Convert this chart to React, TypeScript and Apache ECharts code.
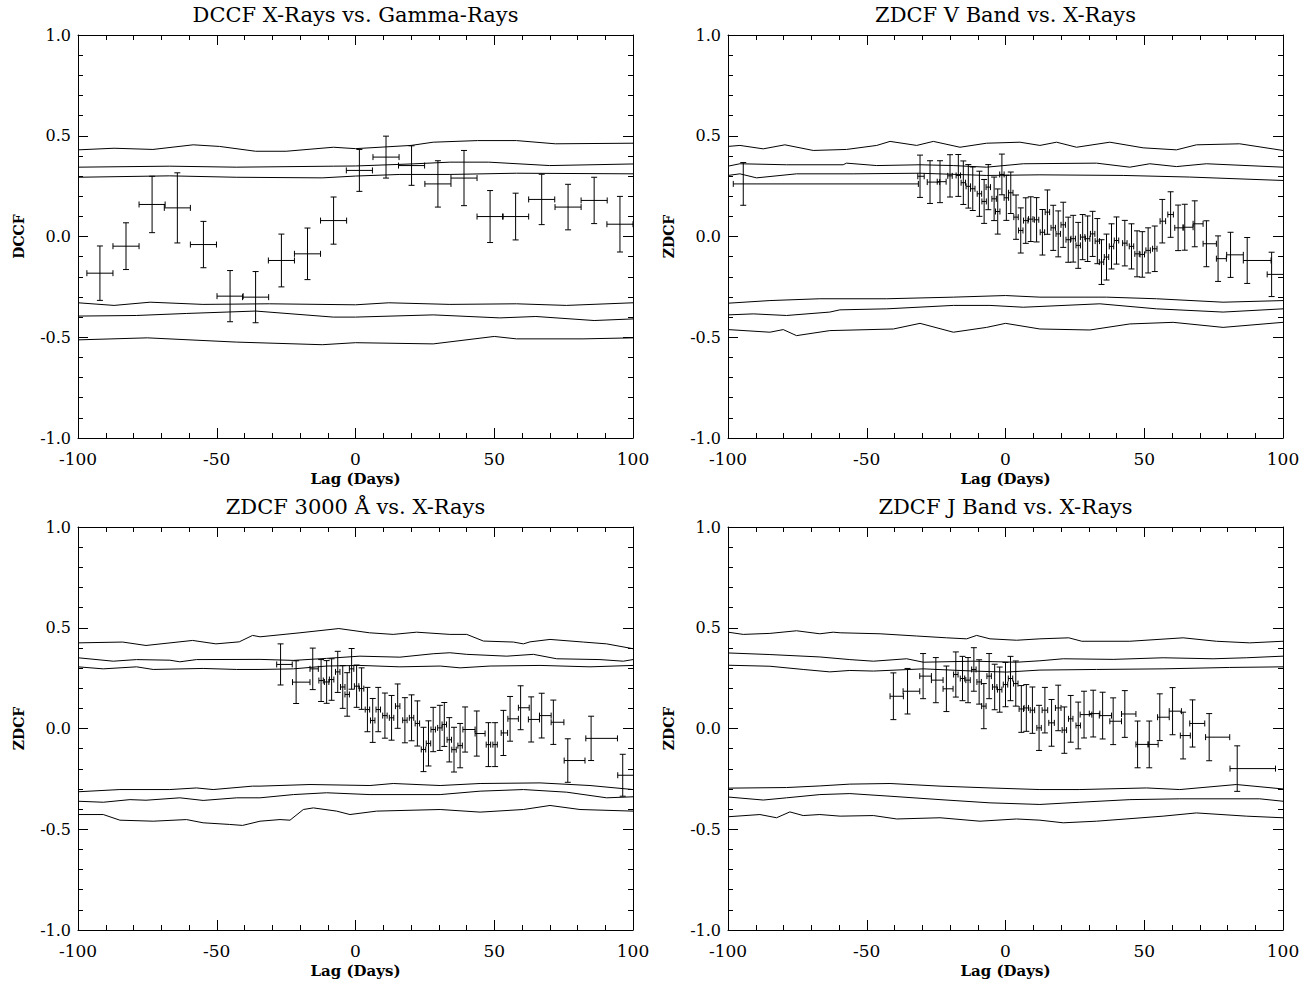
import React, { useEffect, useRef } from "react";
import * as echarts from "echarts";

// ---------- Panel titles / axis names ----------
const panelTitles = [
  "DCCF X-Rays vs. Gamma-Rays",
  "ZDCF V Band vs. X-Rays",
  "ZDCF 3000 Å vs. X-Rays",
  "ZDCF J Band vs. X-Rays",
];
const yNames = ["DCCF", "ZDCF", "ZDCF", "ZDCF"];
const xName = "Lag (Days)";

// ---------- Panel 1: DCCF X-Rays vs Gamma-Rays ----------
const p1Lag = [-92.1, -82.7, -73.3, -64.2, -54.8, -45.2, -36.0, -26.7, -17.3, -7.9, 1.4, 11.0, 20.2, 29.7, 39.1, 48.5, 57.7, 67.1, 76.6, 86.0, 95.3];
const p1Val = [-0.182, -0.048, 0.159, 0.142, -0.040, -0.296, -0.301, -0.119, -0.086, 0.079, 0.328, 0.394, 0.352, 0.261, 0.290, 0.099, 0.099, 0.184, 0.146, 0.179, 0.061];
const p1Err = [0.135, 0.116, 0.140, 0.174, 0.115, 0.127, 0.127, 0.131, 0.128, 0.117, 0.104, 0.104, 0.098, 0.115, 0.137, 0.129, 0.116, 0.125, 0.113, 0.115, 0.138];
const p1XLo = p1Lag.map(() => 4.7);
const p1XHi = p1Lag.map(() => 4.7);

const p1Sig1 = [[-100, 0.430], [-87, 0.438], [-73, 0.432], [-58.5, 0.455], [-49, 0.447], [-36, 0.423], [-25, 0.423], [-8, 0.443], [0, 0.436], [20, 0.452], [28, 0.468], [44, 0.476], [58, 0.476], [72, 0.460], [100, 0.463]];
const p1Sig2 = [[-100, 0.344], [-67, 0.349], [-43, 0.344], [-8, 0.349], [0, 0.350], [20, 0.360], [34, 0.369], [48, 0.369], [70, 0.352], [100, 0.360]];
const p1Sig3 = [[-100, 0.294], [-67, 0.301], [-43, 0.294], [-12, 0.291], [0, 0.300], [16, 0.308], [34, 0.308], [58, 0.314], [100, 0.311]];
const p1Sig4 = [[-100, -0.329], [-87, -0.342], [-74, -0.326], [-55, -0.337], [-31, -0.334], [0, -0.339], [12, -0.329], [34, -0.337], [58, -0.334], [76, -0.342], [100, -0.329]];
const p1Sig5 = [[-100, -0.395], [-79, -0.392], [-61, -0.382], [-36, -0.370], [-8, -0.400], [0, -0.400], [28, -0.389], [52, -0.404], [65, -0.397], [86, -0.417], [100, -0.409]];
const p1Sig6 = [[-100, -0.513], [-75, -0.503], [-43, -0.524], [-12, -0.537], [0, -0.527], [28, -0.533], [50, -0.496], [58, -0.508], [82, -0.508], [100, -0.503]];

// ---------- Panel 2: ZDCF V Band vs X-Rays ----------
const p2Lag = [-94.5, -30.8, -27.2, -23.6, -20.0, -17.0, -15.2, -13.4, -11.8, -9.4, -7.7, -6.2, -4.1, -2.8, -1.3, 0.3, 1.9, 3.8, 5.5, 7.3, 9.1, 11.2, 13.3, 15.1, 17.2, 19.0, 20.8, 22.6, 24.4, 26.2, 27.8, 29.6, 31.4, 33.1, 34.6, 36.4, 38.2, 40.0, 43.0, 45.4, 47.4, 49.3, 51.4, 53.8, 56.5, 59.5, 62.2, 64.6, 68.2, 72.4, 76.6, 81.1, 87.1, 95.9];
const p2Val = [0.261, 0.299, 0.270, 0.272, 0.301, 0.303, 0.267, 0.249, 0.237, 0.212, 0.174, 0.245, 0.187, 0.124, 0.308, 0.192, 0.217, 0.096, 0.030, 0.079, 0.086, 0.083, 0.021, 0.121, 0.043, 0.013, 0.058, -0.016, -0.011, -0.044, -0.003, -0.011, 0.013, -0.023, -0.127, -0.102, -0.049, -0.020, -0.033, -0.049, -0.086, -0.089, -0.069, -0.061, 0.076, 0.109, 0.043, 0.046, 0.063, -0.036, -0.110, -0.091, -0.119, -0.188];
const p2Err = [0.106, 0.105, 0.106, 0.104, 0.105, 0.104, 0.108, 0.108, 0.108, 0.112, 0.109, 0.112, 0.108, 0.112, 0.101, 0.112, 0.103, 0.110, 0.112, 0.113, 0.111, 0.110, 0.113, 0.110, 0.112, 0.114, 0.112, 0.112, 0.116, 0.114, 0.112, 0.113, 0.112, 0.112, 0.111, 0.114, 0.112, 0.117, 0.113, 0.112, 0.114, 0.113, 0.112, 0.113, 0.108, 0.113, 0.113, 0.114, 0.114, 0.114, 0.113, 0.112, 0.114, 0.110];
const p2XLo = [3.6, 0.8, 1.0, 1.0, 0.8, 0.8, 0.8, 0.8, 0.8, 0.8, 0.8, 0.8, 0.8, 0.8, 0.8, 0.8, 0.8, 0.8, 0.8, 0.8, 0.8, 0.8, 0.8, 0.8, 0.8, 0.8, 0.8, 0.8, 0.8, 0.8, 0.8, 0.8, 0.8, 0.8, 0.8, 0.8, 0.8, 0.8, 0.8, 0.8, 0.8, 0.8, 0.8, 0.8, 0.8, 1.0, 1.2, 0.6, 0.6, 1.2, 0.6, 1.4, 1.4, 1.6];
const p2XHi = [63.1, 1.5, 3.5, 2.2, 0.8, 0.8, 0.8, 0.8, 0.8, 0.8, 0.8, 0.8, 0.8, 0.8, 0.8, 0.8, 0.8, 0.8, 0.8, 0.8, 0.8, 0.8, 0.8, 0.8, 0.8, 0.8, 0.8, 0.8, 0.8, 0.8, 0.8, 0.8, 0.8, 0.8, 0.8, 0.8, 0.8, 0.8, 0.8, 0.8, 0.8, 0.8, 0.8, 0.8, 1.2, 1.0, 1.8, 3.0, 3.0, 3.6, 3.0, 4.6, 8.6, 5.0];

const p2Sig1 = [[-100, 0.447], [-95.7, 0.452], [-87.3, 0.435], [-79.5, 0.455], [-69.3, 0.427], [-57.3, 0.432], [-46.4, 0.452], [-41.6, 0.472], [-32, 0.452], [-26, 0.472], [-16.4, 0.443], [-6.8, 0.463], [5.2, 0.468], [12.4, 0.452], [18.4, 0.468], [25.6, 0.443], [37.6, 0.468], [49.6, 0.440], [61.6, 0.430], [68.8, 0.455], [84.4, 0.460], [100, 0.427]];
const p2Sig2 = [[-100, 0.349], [-95.7, 0.361], [-78.9, 0.356], [-58.5, 0.356], [-57.3, 0.364], [-46.4, 0.352], [-30.8, 0.356], [-18.8, 0.352], [-6.8, 0.344], [6.4, 0.361], [32.8, 0.364], [44.8, 0.344], [52, 0.361], [61.6, 0.347], [72.4, 0.361], [100, 0.344]];
const p2Sig3 = [[-100, 0.303], [-95.7, 0.311], [-89.7, 0.291], [-75.3, 0.311], [-54.9, 0.311], [-30.8, 0.314], [-6.8, 0.303], [12.4, 0.306], [42.4, 0.303], [66.4, 0.295], [100, 0.278]];
const p2Sig4 = [[-100, -0.331], [-84.9, -0.318], [-66.9, -0.309], [-42.8, -0.309], [-18.8, -0.301], [0, -0.293], [12.4, -0.301], [36.4, -0.301], [54.4, -0.309], [78.4, -0.326], [100, -0.318]];
const p2Sig5 = [[-100, -0.389], [-90.9, -0.384], [-78.9, -0.392], [-63.3, -0.375], [-59.7, -0.364], [-42.8, -0.359], [-18.8, -0.342], [-5.6, -0.342], [6.4, -0.351], [34, -0.334], [54.4, -0.359], [78.4, -0.375], [100, -0.359]];
const p2Sig6 = [[-100, -0.462], [-84.9, -0.475], [-80.1, -0.462], [-75.3, -0.492], [-63.3, -0.467], [-40.4, -0.459], [-30.8, -0.431], [-18.8, -0.475], [-6.8, -0.451], [0, -0.431], [12.4, -0.459], [30.4, -0.464], [44.8, -0.434], [60.4, -0.426], [78.4, -0.451], [100, -0.426]];

// ---------- Panel 3: ZDCF 3000 Å vs X-Rays ----------
const p3Lag = [-27.0, -21.4, -15.4, -12.4, -10.4, -8.6, -6.4, -4.6, -3.0, -1.4, 0.4, 2.2, 4.3, 6.2, 8.2, 10.6, 13.0, 15.2, 17.8, 20.2, 22.3, 24.5, 26.3, 28.0, 30.4, 32.0, 33.8, 35.5, 37.7, 39.5, 43.7, 47.9, 50.3, 53.3, 55.7, 59.5, 63.3, 67.1, 71.3, 76.5, 84.9, 96.3];
const p3Val = [0.318, 0.230, 0.296, 0.238, 0.231, 0.243, 0.281, 0.206, 0.169, 0.296, 0.210, 0.198, 0.094, 0.040, 0.094, 0.064, 0.053, 0.111, 0.041, 0.053, 0.025, -0.104, -0.074, -0.005, 0.003, 0.020, -0.056, -0.105, -0.085, -0.005, -0.025, -0.080, -0.080, -0.022, 0.048, 0.103, 0.045, 0.064, 0.031, -0.159, -0.049, -0.232];
const p3Err = [0.102, 0.106, 0.103, 0.104, 0.106, 0.103, 0.102, 0.106, 0.108, 0.101, 0.105, 0.103, 0.110, 0.109, 0.110, 0.112, 0.111, 0.110, 0.112, 0.114, 0.112, 0.110, 0.112, 0.110, 0.112, 0.109, 0.110, 0.111, 0.110, 0.112, 0.112, 0.109, 0.109, 0.112, 0.111, 0.109, 0.112, 0.111, 0.110, 0.108, 0.110, 0.104];
const p3XLo = [1.4, 1.3, 1.0, 0.8, 0.8, 0.8, 0.8, 0.8, 0.8, 0.8, 0.8, 0.8, 0.8, 0.8, 0.8, 0.8, 0.8, 0.8, 0.8, 0.8, 0.8, 0.8, 0.8, 0.8, 0.8, 0.8, 0.8, 0.8, 0.8, 0.8, 0.6, 0.8, 0.8, 0.8, 0.8, 0.8, 1.0, 0.8, 0.8, 1.3, 1.9, 1.8];
const p3XHi = [4.2, 5.0, 2.0, 0.8, 0.8, 0.8, 0.8, 0.8, 0.8, 0.8, 0.8, 0.8, 0.8, 0.8, 0.8, 0.8, 0.8, 0.8, 0.8, 0.8, 0.8, 0.8, 0.8, 0.8, 0.8, 0.8, 0.8, 0.8, 0.8, 3.6, 3.0, 0.8, 0.8, 1.5, 3.0, 3.1, 3.0, 3.4, 3.8, 6.2, 9.5, 5.0];

const p3Sig1 = [[-100, 0.425], [-83.9, 0.429], [-75.5, 0.412], [-58.7, 0.437], [-50.3, 0.420], [-41.9, 0.430], [-37.1, 0.462], [-34.4, 0.455], [-20, 0.475], [-6, 0.496], [5, 0.475], [13.6, 0.467], [22, 0.478], [34, 0.467], [40.1, 0.467], [46.1, 0.434], [56.9, 0.429], [60.5, 0.420], [62.9, 0.430], [70.1, 0.442], [82.1, 0.429], [90.5, 0.420], [100, 0.396]];
const p3Sig2 = [[-100, 0.351], [-87.3, 0.334], [-78.9, 0.342], [-66.9, 0.339], [-63.3, 0.331], [-57.3, 0.342], [-34.4, 0.343], [-22.4, 0.338], [-10.4, 0.348], [1.6, 0.359], [16, 0.354], [28, 0.371], [34, 0.376], [40.1, 0.368], [54.5, 0.359], [64.1, 0.368], [72.5, 0.346], [88.1, 0.342], [96.5, 0.334], [100, 0.342]];
const p3Sig3 = [[-100, 0.306], [-90.9, 0.296], [-78.9, 0.306], [-72.9, 0.293], [-54.9, 0.298], [-42.8, 0.293], [-34.4, 0.293], [-22.4, 0.296], [-10.4, 0.310], [1.6, 0.313], [16, 0.306], [30.5, 0.310], [37.7, 0.301], [48.5, 0.310], [66.5, 0.313], [84.5, 0.306], [100, 0.313]];
const p3Sig4 = [[-100, -0.314], [-84.9, -0.303], [-66.9, -0.303], [-57.3, -0.295], [-51.3, -0.303], [-37.1, -0.286], [-34.4, -0.286], [-16.4, -0.278], [5.2, -0.283], [13.6, -0.273], [30.5, -0.283], [44.9, -0.273], [66.5, -0.270], [84.5, -0.283], [100, -0.303]];
const p3Sig5 = [[-100, -0.361], [-90.9, -0.366], [-81.3, -0.353], [-75.5, -0.356], [-63.3, -0.344], [-54.9, -0.357], [-42.8, -0.344], [-34.4, -0.344], [-22.4, -0.328], [-10.4, -0.319], [5.2, -0.328], [30.5, -0.328], [44.9, -0.311], [60.5, -0.303], [76.1, -0.316], [90.5, -0.344], [100, -0.339]];
const p3Sig6 = [[-100, -0.427], [-90.9, -0.427], [-84.9, -0.455], [-72.9, -0.460], [-60.9, -0.452], [-54.9, -0.468], [-45.5, -0.476], [-40.7, -0.481], [-34.4, -0.460], [-27.2, -0.452], [-23.6, -0.455], [-18.8, -0.402], [-15.2, -0.394], [-6.8, -0.410], [-2, -0.427], [7.6, -0.410], [30.5, -0.402], [44.9, -0.415], [60.5, -0.402], [70.1, -0.382], [80.9, -0.402], [100, -0.410]];

// ---------- Panel 4: ZDCF J Band vs X-Rays ----------
const p4Lag = [-40.4, -35.3, -29.7, -25.1, -21.3, -17.9, -15.5, -13.5, -11.4, -9.5, -7.8, -5.9, -3.9, -2.1, 0.0, 1.8, 3.7, 5.7, 7.5, 9.7, 12.1, 14.2, 16.6, 19.0, 21.2, 23.5, 26.2, 28.3, 31.6, 35.0, 38.8, 43.0, 47.6, 51.8, 55.6, 60.2, 64.0, 67.4, 73.4, 83.5];
const p4Val = [0.160, 0.185, 0.260, 0.240, 0.197, 0.268, 0.248, 0.240, 0.293, 0.231, 0.111, 0.260, 0.206, 0.193, 0.218, 0.248, 0.223, 0.097, 0.102, 0.091, 0.003, 0.091, 0.028, 0.102, -0.008, 0.048, 0.015, 0.069, 0.074, 0.064, 0.036, 0.072, -0.079, -0.079, 0.056, 0.086, -0.035, 0.025, -0.043, -0.199];
const p4Err = [0.116, 0.113, 0.112, 0.112, 0.113, 0.112, 0.110, 0.112, 0.108, 0.110, 0.112, 0.112, 0.113, 0.112, 0.110, 0.110, 0.112, 0.116, 0.116, 0.115, 0.112, 0.113, 0.116, 0.113, 0.115, 0.116, 0.116, 0.116, 0.116, 0.116, 0.116, 0.116, 0.116, 0.116, 0.116, 0.117, 0.116, 0.117, 0.117, 0.113];
const p4XLo = [1.2, 1.6, 1.2, 1.6, 1.2, 0.8, 0.8, 0.8, 0.8, 0.8, 0.8, 0.8, 0.8, 0.8, 0.8, 0.8, 0.8, 0.8, 0.8, 0.8, 0.8, 1.0, 1.0, 1.0, 0.8, 0.8, 0.8, 1.4, 1.4, 1.2, 1.2, 1.2, 0.6, 0.4, 0.8, 1.2, 1.0, 1.0, 1.3, 2.6];
const p4XHi = [3.6, 4.4, 3.0, 2.6, 2.4, 0.8, 0.8, 0.8, 0.8, 0.8, 0.8, 0.8, 0.8, 0.8, 0.8, 0.8, 0.8, 0.8, 0.8, 0.8, 0.8, 1.0, 1.0, 1.0, 0.8, 0.8, 0.8, 2.8, 2.4, 3.2, 3.0, 4.0, 3.8, 3.2, 3.4, 3.2, 2.6, 4.4, 7.4, 13.8];

const p4Sig1 = [[-100, 0.478], [-94.5, 0.467], [-84.9, 0.472], [-75.3, 0.485], [-66.9, 0.470], [-62.1, 0.478], [-59.6, 0.475], [-45.2, 0.470], [-32, 0.459], [-21.2, 0.450], [-14, 0.445], [-10.4, 0.462], [-5.6, 0.445], [4, 0.438], [12.4, 0.445], [22.8, 0.450], [27.5, 0.433], [44.8, 0.433], [64, 0.450], [76, 0.433], [88, 0.425], [100, 0.433]];
const p4Sig2 = [[-100, 0.375], [-84.9, 0.367], [-66.9, 0.355], [-56.1, 0.342], [-47.6, 0.334], [-35.6, 0.346], [-29.6, 0.329], [-11.6, 0.334], [4, 0.329], [12.4, 0.336], [20.8, 0.346], [38.8, 0.343], [56.8, 0.351], [74.8, 0.346], [86.8, 0.351], [100, 0.359]];
const p4Sig3 = [[-100, 0.314], [-84.9, 0.309], [-72.9, 0.293], [-63.3, 0.281], [-56.1, 0.288], [-47.6, 0.285], [-29.6, 0.296], [-11.6, 0.285], [0.4, 0.280], [12.4, 0.290], [32.8, 0.293], [56.8, 0.296], [80.8, 0.303], [100, 0.306]];
const p4Sig4 = [[-100, -0.296], [-78.9, -0.293], [-66.9, -0.285], [-56.1, -0.276], [-41.6, -0.273], [-23.6, -0.286], [-5.6, -0.295], [12.4, -0.303], [26.8, -0.303], [50.8, -0.295], [62.8, -0.303], [83.2, -0.278], [100, -0.300]];
const p4Sig5 = [[-100, -0.340], [-87.3, -0.355], [-78.9, -0.344], [-66.9, -0.328], [-56.1, -0.323], [-41.6, -0.336], [-23.6, -0.353], [-5.6, -0.369], [12.4, -0.377], [26.8, -0.366], [44.8, -0.353], [62.8, -0.349], [91.6, -0.349], [100, -0.361]];
const p4Sig6 = [[-100, -0.438], [-88.5, -0.427], [-82.5, -0.443], [-77.7, -0.414], [-72.9, -0.432], [-66.9, -0.427], [-59.6, -0.435], [-47.6, -0.432], [-39.2, -0.449], [-23.6, -0.443], [-9.2, -0.460], [4, -0.449], [12.4, -0.455], [20.8, -0.468], [32.8, -0.460], [56.8, -0.435], [68.8, -0.419], [86.8, -0.435], [100, -0.443]];

const panels = [
  { lag: p1Lag, val: p1Val, err: p1Err, xlo: p1XLo, xhi: p1XHi, sig: [p1Sig1, p1Sig2, p1Sig3, p1Sig4, p1Sig5, p1Sig6] },
  { lag: p2Lag, val: p2Val, err: p2Err, xlo: p2XLo, xhi: p2XHi, sig: [p2Sig1, p2Sig2, p2Sig3, p2Sig4, p2Sig5, p2Sig6] },
  { lag: p3Lag, val: p3Val, err: p3Err, xlo: p3XLo, xhi: p3XHi, sig: [p3Sig1, p3Sig2, p3Sig3, p3Sig4, p3Sig5, p3Sig6] },
  { lag: p4Lag, val: p4Val, err: p4Err, xlo: p4XLo, xhi: p4XHi, sig: [p4Sig1, p4Sig2, p4Sig3, p4Sig4, p4Sig5, p4Sig6] },
];

const FONT = "'DejaVu Serif', 'Liberation Serif', serif";
const gridPos = [
  { left: 78, top: 35 },
  { left: 728, top: 35 },
  { left: 78, top: 527 },
  { left: 728, top: 527 },
];
const GW = 555;
const GH = 403;

function renderErrorBar(params: any, api: any) {
  const x = api.value(0);
  const y = api.value(1);
  const e = api.value(2);
  const xl = api.value(3);
  const xh = api.value(4);
  const cs = params.coordSys;
  const c = api.coord([x, y]);
  const top = api.coord([x, y + e]);
  const bot = api.coord([x, y - e]);
  const l = api.coord([x - xl, y]);
  const r = api.coord([x + xh, y]);
  const minX = cs.x;
  const maxX = cs.x + cs.width;
  const lx = Math.max(minX, l[0]);
  const rx = Math.min(maxX, r[0]);
  const cap = 3;
  const st = { stroke: "#000", lineWidth: 1, fill: "none" };
  const children: any[] = [
    { type: "line", shape: { x1: c[0], y1: top[1], x2: c[0], y2: bot[1] }, style: st },
    { type: "line", shape: { x1: c[0] - cap, y1: top[1], x2: c[0] + cap, y2: top[1] }, style: st },
    { type: "line", shape: { x1: c[0] - cap, y1: bot[1], x2: c[0] + cap, y2: bot[1] }, style: st },
    { type: "line", shape: { x1: lx, y1: c[1], x2: rx, y2: c[1] }, style: st },
  ];
  if (l[0] >= minX) children.push({ type: "line", shape: { x1: lx, y1: c[1] - cap, x2: lx, y2: c[1] + cap }, style: st });
  if (r[0] <= maxX) children.push({ type: "line", shape: { x1: rx, y1: c[1] - cap, x2: rx, y2: c[1] + cap }, style: st });
  return { type: "group", children };
}

function buildOption() {
  const grid: any[] = [];
  const xAxis: any[] = [];
  const yAxis: any[] = [];
  const series: any[] = [];
  const title: any[] = [];
  const tickCommon = {
    axisTick: { show: true, inside: true, length: 10, lineStyle: { color: "#000", width: 1 } },
    minorTick: { show: true, splitNumber: 5, length: 5, lineStyle: { color: "#000", width: 1 } },
    splitLine: { show: false },
    minorSplitLine: { show: false },
    axisLine: { show: true, onZero: false, lineStyle: { color: "#000", width: 1 } },
  };
  panels.forEach((p, i) => {
    const g = gridPos[i];
    grid.push({ left: g.left, top: g.top, width: GW, height: GH, containLabel: false });
    title.push({
      text: panelTitles[i],
      left: g.left + GW / 2 - 5,
      top: g.top - 36,
      textAlign: "center",
      textStyle: { fontFamily: FONT, fontSize: 21, fontWeight: "normal", color: "#000" },
    });
    xAxis.push({
      type: "value", gridIndex: i, position: "bottom", min: -100, max: 100, interval: 50,
      ...tickCommon,
      axisLabel: { show: true, margin: 12, fontFamily: FONT, fontSize: 17, color: "#000", formatter: (v: number) => String(v) },
      name: xName, nameLocation: "middle", nameGap: 33,
      nameTextStyle: { fontFamily: FONT, fontSize: 15, fontWeight: "bold", color: "#000" },
    });
    xAxis.push({
      type: "value", gridIndex: i, position: "top", min: -100, max: 100, interval: 50,
      ...tickCommon, axisLabel: { show: false },
    });
    yAxis.push({
      type: "value", gridIndex: i, position: "left", min: -1, max: 1, interval: 0.5,
      ...tickCommon,
      axisLabel: { show: true, margin: 7, fontFamily: FONT, fontSize: 16, color: "#000", formatter: (v: number) => v.toFixed(1) },
      name: yNames[i], nameLocation: "middle", nameGap: 52,
      nameTextStyle: { fontFamily: FONT, fontSize: 14, fontWeight: "bold", color: "#000" },
    });
    yAxis.push({
      type: "value", gridIndex: i, position: "right", min: -1, max: 1, interval: 0.5,
      ...tickCommon, axisLabel: { show: false },
    });
    p.sig.forEach((line) => {
      series.push({
        type: "line", xAxisIndex: 2 * i, yAxisIndex: 2 * i, data: line,
        showSymbol: false, symbol: "none", smooth: false, silent: true,
        lineStyle: { color: "#000", width: 1 },
      });
    });
    series.push({
      type: "custom", xAxisIndex: 2 * i, yAxisIndex: 2 * i,
      encode: { x: 0, y: 1 },
      data: p.lag.map((lg, k) => [lg, p.val[k], p.err[k], p.xlo[k], p.xhi[k]]),
      renderItem: renderErrorBar,
      silent: true,
    });
  });
  return { animation: false, backgroundColor: "#fff", title, grid, xAxis, yAxis, series };
}

export default function App() {
  const ref = useRef<HTMLDivElement>(null);
  useEffect(() => {
    if (!ref.current) return;
    const chart = echarts.init(ref.current, undefined, { renderer: "svg" });
    chart.setOption(buildOption() as any);
    return () => chart.dispose();
  }, []);
  return (
    <div
      ref={ref}
      style={{ position: "absolute", left: 0, top: 0, width: 1312, height: 985, background: "#fff" }}
    />
  );
}
